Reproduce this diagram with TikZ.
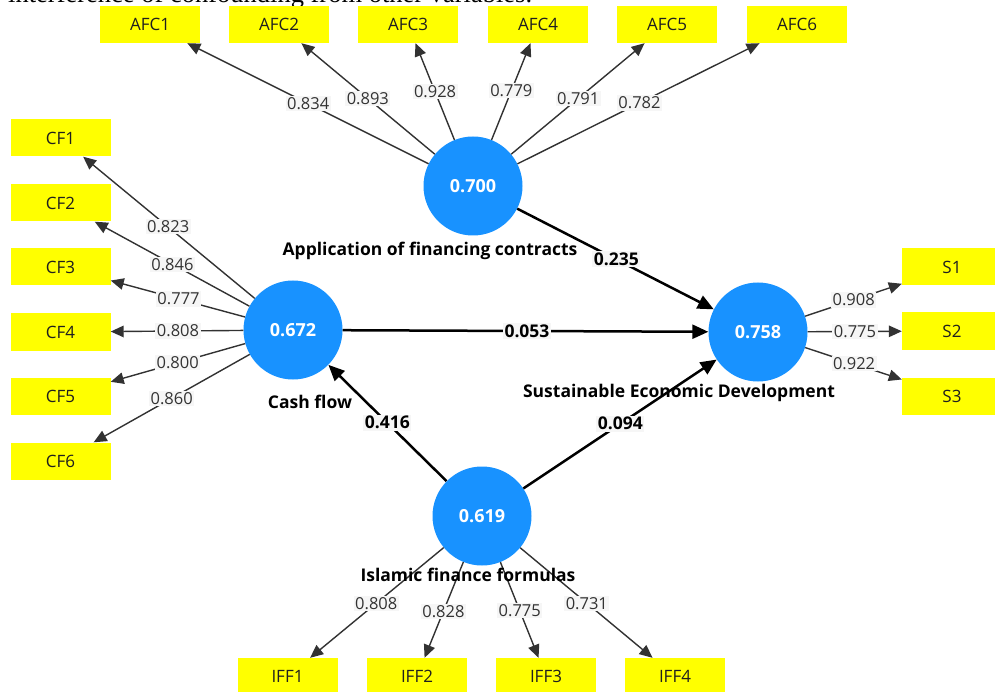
\documentclass[tikz,border=0pt]{standalone}
\usepackage{fontspec}
\setmainfont{Open Sans}
\newfontfamily\serifa{Liberation Serif}
\usetikzlibrary{arrows.meta,calc}
\definecolor{latblue}{RGB}{24,146,255}
\definecolor{boxyel}{RGB}{255,255,0}
\definecolor{lblbg}{RGB}{246,246,246}
\definecolor{lnk}{RGB}{50,50,50}
\begin{document}
\begin{tikzpicture}[x=1pt,y=-1pt,
 ind/.style={fill=boxyel, minimum width=100pt, minimum height=37pt, inner sep=0pt, font=\fontsize{17}{19}\selectfont, text=black!88},
 lat/.style={circle, fill=latblue, minimum size=99pt, inner sep=0pt, text=white, font=\bfseries\fontsize{18}{20}\selectfont},
 ld/.style={draw=lnk, line width=1.4pt, -{Triangle[length=13pt,width=11.5pt]}},
 pth/.style={draw=black, line width=2.5pt, -{Triangle[length=16pt,width=14pt]}},
 lbl/.style={fill=lblbg, inner sep=1.5pt, text=black!80, font=\fontsize{16.5}{19}\selectfont},
 plbl/.style={fill=lblbg, inner sep=1.5pt, text=black, font=\bfseries\fontsize{17.5}{20}\selectfont},
 latname/.style={text=black, inner sep=0pt, font=\bfseries\fontsize{17.5}{20}\selectfont}]
\useasboundingbox (0,0) rectangle (995,692);
\node[anchor=base west, inner sep=0pt, font=\serifa\fontsize{26.5}{30}\selectfont] (toptext) at (8,2.5) {interference of confounding from other variables.};

% latent variables
\node[lat] (AFC) at (473,186) {0.700};
\node[lat] (CF) at (293,330) {0.672};
\node[lat] (SED) at (758,332) {0.758};
\node[lat] (IFF) at (482,516) {0.619};

% indicators
\node[ind] (AFC1) at (150,24.5) {AFC1};
\node[ind] (AFC2) at (279,24.5) {AFC2};
\node[ind] (AFC3) at (408,24.5) {AFC3};
\node[ind] (AFC4) at (538,24.5) {AFC4};
\node[ind] (AFC5) at (667,24.5) {AFC5};
\node[ind] (AFC6) at (797,24.5) {AFC6};
\node[ind] (CF1) at (60.5,138) {CF1};
\node[ind] (CF2) at (60.5,203) {CF2};
\node[ind] (CF3) at (60.5,267) {CF3};
\node[ind] (CF4) at (60.5,332) {CF4};
\node[ind] (CF5) at (60.5,396) {CF5};
\node[ind] (CF6) at (60.5,461) {CF6};
\node[ind] (S1) at (952,267) {S1};
\node[ind] (S2) at (952,331) {S2};
\node[ind] (S3) at (952,396) {S3};
\node[ind] (IFF1) at (287.5,676.5) {IFF1};
\node[ind] (IFF2) at (417,676.5) {IFF2};
\node[ind] (IFF3) at (546,676.5) {IFF3};
\node[ind] (IFF4) at (675,676.5) {IFF4};

% loadings
\foreach \i in {1,...,6} {\draw[ld] (AFC) -- (AFC\i); \draw[ld] (CF) -- (CF\i);}
\foreach \i in {1,2,3} {\draw[ld] (SED) -- (S\i);}
\foreach \i in {1,...,4} {\draw[ld] (IFF) -- (IFF\i);}

% paths
\draw[pth] (AFC) -- (SED);
\draw[pth] (CF) -- (SED);
\draw[pth] (IFF) -- (CF);
\draw[pth] (IFF) -- (SED);

% loading labels
\node[lbl] (la1) at ($(AFC)!(309,102)!(AFC1)$) {0.834};
\node[lbl] (la2) at ($(AFC)!(369,97)!(AFC2)$) {0.893};
\node[lbl] (la3) at ($(AFC)!(437,91)!(AFC3)$) {0.928};
\node[lbl] (la4) at ($(AFC)!(512,91)!(AFC4)$) {0.779};
\node[lbl] (la5) at ($(AFC)!(578,98)!(AFC5)$) {0.791};
\node[lbl] (la6) at ($(AFC)!(640,104)!(AFC6)$) {0.782};
\node[lbl] (lc1) at ($(CF)!(168,227)!(CF1)$) {0.823};
\node[lbl] (lc2) at ($(CF)!(172,265)!(CF2)$) {0.846};
\node[lbl] (lc3) at ($(CF)!(178,301)!(CF3)$) {0.777};
\node[lbl] (lc4) at ($(CF)!(178,332)!(CF4)$) {0.808};
\node[lbl] (lc5) at ($(CF)!(178,364)!(CF5)$) {0.800};
\node[lbl] (lc6) at ($(CF)!(172,399)!(CF6)$) {0.860};
\node[lbl] (ls1) at ($(SED)!(854,301)!(S1)$) {0.908};
\node[lbl] (ls2) at ($(SED)!(855,332)!(S2)$) {0.775};
\node[lbl] (ls3) at ($(SED)!(854,364)!(S3)$) {0.922};
\node[lbl] (li1) at ($(IFF)!(376,603)!(IFF1)$) {0.808};
\node[lbl] (li2) at ($(IFF)!(443,611)!(IFF2)$) {0.828};
\node[lbl] (li3) at ($(IFF)!(519,611)!(IFF3)$) {0.775};
\node[lbl] (li4) at ($(IFF)!(587,603)!(IFF4)$) {0.731};

% path labels
\node[plbl] (p1) at ($(AFC)!(617,258)!(SED)$) {0.235};
\node[plbl] (p2) at ($(CF)!(527,330)!(SED)$) {0.053};
\node[plbl] (p3) at ($(IFF)!(387,423)!(CF)$) {0.416};
\node[plbl] (p4) at ($(IFF)!(620,423)!(SED)$) {0.094};

% latent names
\node[latname] (nAFC) at (430,251) {Application of financing contracts};
\node[latname] (nCF) at (310,402) {Cash flow};
\node[latname] (nSED) at (679,393) {Sustainable Economic Development};
\node[latname] (nIFF) at (468,575) {Islamic finance formulas};
\end{tikzpicture}
\end{document}
